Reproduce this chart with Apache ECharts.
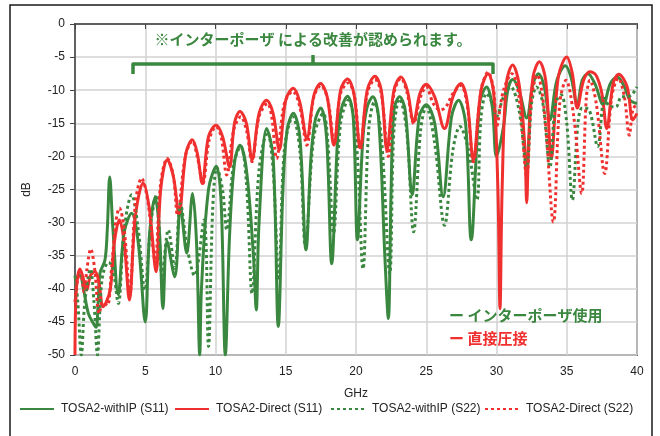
<!DOCTYPE html>
<html><head><meta charset="utf-8">
<script src="https://cdn.jsdelivr.net/npm/echarts@6/dist/echarts.min.js"></script>
<style>html,body{margin:0;padding:0;background:#fff}#c{width:660px;height:436px}</style>
</head><body><div id="c"></div>
<script>
const xTicks = [0,5,10,15,20,25,30,35,40];
const yTicks = [0,-5,-10,-15,-20,-25,-30,-35,-40,-45,-50];
const seriesNames = ['TOSA2-withIP (S11)','TOSA2-Direct (S11)','TOSA2-withIP (S22)','TOSA2-Direct (S22)'];

const withIP_S11 = [[0,-38.7],[0.35,-37.9],[0.6,-40],[0.95,-43.7],[1.3,-45.2],[1.5,-45.8],[1.65,-42],[1.78,-37.6],[2.13,-35.7],[2.3,-31],[2.47,-23.1],[2.7,-31],[3.08,-40.9],[3.5,-31.5],[4.03,-28.6],[4.5,-33],[5.0,-45],[5.3,-32],[5.7,-26.2],[6.0,-31],[6.26,-43],[6.55,-32.8],[7.1,-38.2],[7.5,-27.5],[7.95,-34.6],[8.37,-25.6],[8.65,-33],[8.88,-50],[9.0,-40],[9.5,-25],[10.06,-21.5],[10.4,-27],[10.7,-50],[11.0,-32],[11.35,-21],[11.74,-18.3],[12.2,-22],[12.7,-35],[12.9,-43.2],[13.1,-30],[13.64,-15.8],[14.1,-20],[14.47,-45.7],[14.8,-25],[15.1,-16],[15.54,-13.5],[16.0,-17],[16.44,-34.1],[16.8,-20],[17.1,-14.5],[17.48,-12.7],[17.9,-17],[18.27,-36.2],[18.7,-17],[19.0,-12.5],[19.4,-10.9],[19.8,-14],[20.1,-32.6],[20.5,-17],[20.8,-12.5],[21.2,-11.0],[21.6,-14],[22.06,-35.4],[22.3,-44.5],[22.5,-25],[22.7,-13],[23.1,-11],[23.5,-13],[24.0,-25.8],[24.5,-14],[25.0,-12.2],[25.6,-15],[26.2,-26.1],[26.8,-14],[27.3,-11.5],[27.8,-15],[28.2,-32.6],[28.8,-12],[29.3,-9.5],[29.7,-12.5],[30.0,-20],[30.5,-15.5],[30.8,-10],[31.15,-8.4],[31.6,-10],[32.15,-14.2],[32.6,-9],[33.0,-7.5],[33.4,-9.5],[33.8,-14.5],[34.3,-8.5],[34.9,-6.3],[35.3,-8],[35.75,-12.2],[36.1,-8.5],[36.5,-7.5],[37.0,-9],[37.6,-12.2],[38.1,-9],[38.6,-8.0],[39.1,-9.5],[39.5,-11.5],[40,-12]];

const direct_S11 = [[0,-50],[0.1,-40],[0.36,-37],[0.6,-38.5],[0.83,-40.2],[1.1,-38],[1.42,-37.4],[1.7,-39],[2.0,-42.7],[2.5,-40.2],[2.8,-33],[3.16,-29.6],[3.5,-33],[3.87,-41.7],[4.3,-29],[4.86,-24],[5.3,-28],[5.77,-37.4],[6.1,-25],[6.57,-20.5],[7.0,-23],[7.4,-28.6],[7.9,-19.5],[8.35,-17.5],[8.7,-19.5],[9.06,-24.1],[9.5,-17],[10.04,-15.3],[10.5,-17],[11.0,-21.6],[11.35,-15],[11.74,-13.2],[12.2,-15],[12.6,-20.5],[13.1,-13.5],[13.64,-11.5],[14.1,-13.5],[14.54,-19],[15.0,-11.5],[15.54,-9.7],[16.0,-11.8],[16.5,-17.3],[17.0,-10.8],[17.48,-9.0],[17.95,-11],[18.43,-18.3],[18.9,-10],[19.4,-8.3],[19.85,-10.5],[20.3,-18.7],[20.8,-10],[21.35,-7.9],[21.8,-10],[22.2,-19],[22.7,-10],[23.2,-8.0],[23.65,-10],[24.1,-14.8],[24.55,-10.5],[25.0,-9.1],[25.6,-11],[26.3,-15.8],[26.9,-11],[27.45,-9.0],[27.9,-11.5],[28.35,-20.5],[28.9,-10],[29.4,-7.5],[29.8,-10.5],[30.1,-25],[30.25,-43],[30.4,-25],[30.7,-9],[31.15,-6.2],[31.6,-9],[32.0,-18],[32.15,-27],[32.3,-17],[32.6,-8],[33.05,-5.7],[33.5,-8.5],[33.9,-20.3],[34.4,-8],[35.0,-5.0],[35.4,-7.5],[35.75,-12.7],[36.2,-8.5],[36.65,-7.2],[37.1,-7.8],[37.5,-10.5],[37.85,-15.8],[38.3,-9],[38.7,-7.6],[39.3,-9.5],[39.7,-14.5],[40,-13.5]];

const withIP_S22 = [[0,-38],[0.2,-42],[0.45,-50],[0.7,-42],[1.1,-37],[1.35,-42],[1.6,-50],[1.8,-42],[2.0,-37.7],[2.4,-36],[2.7,-37],[3.08,-42.2],[3.5,-31],[4.03,-25.8],[4.5,-31],[4.97,-40.2],[5.4,-30],[5.8,-25.8],[6.2,-38],[6.64,-31.1],[7.1,-36.9],[7.5,-27.1],[8.0,-34],[8.5,-38],[9.18,-29.6],[9.5,-48.7],[9.8,-28],[10.1,-21.7],[10.5,-25],[10.8,-31.1],[11.3,-21],[11.8,-18.5],[12.2,-24],[12.6,-40.7],[13.1,-22],[13.7,-16.3],[14.1,-22],[14.5,-38.7],[14.9,-19],[15.5,-14],[16.0,-19],[16.4,-33.6],[17.0,-17],[17.67,-13.5],[18.0,-18],[18.4,-31.6],[18.9,-15],[19.45,-11.5],[20.0,-17],[20.5,-37],[20.9,-16],[21.3,-11.8],[21.8,-17],[22.4,-37.7],[22.7,-16],[23.1,-11.3],[23.6,-16],[24.1,-31.4],[24.6,-16],[25.0,-12.5],[25.6,-18],[26.3,-30.4],[26.9,-19],[27.4,-15.5],[28.0,-19],[28.6,-26.6],[28.9,-14],[29.3,-10.5],[29.7,-12],[30.0,-14],[30.5,-11],[31.0,-9.5],[31.6,-13],[32.15,-21.6],[32.5,-12],[32.85,-9.5],[33.3,-12],[33.8,-21.6],[34.2,-12],[34.6,-10.7],[35.0,-15],[35.4,-26.6],[35.8,-15],[36.1,-12.7],[36.6,-13],[37.2,-18.5],[37.7,-11.2],[38.1,-12.5],[38.5,-12.5],[38.9,-11],[39.3,-11],[39.7,-10.5],[40,-9.5]];

const direct_S22 = [[0,-42],[0.2,-38.5],[0.4,-37.5],[0.65,-40.5],[0.85,-37],[1.12,-34.0],[1.4,-37],[1.73,-43.7],[2.0,-42],[2.3,-42.5],[2.6,-37],[2.9,-30],[3.16,-27.8],[3.5,-31],[3.9,-40.7],[4.3,-27],[4.74,-23.3],[5.2,-27],[5.7,-35.7],[6.1,-24],[6.57,-20.3],[7.0,-23],[7.3,-28.9],[7.85,-20],[8.35,-17.7],[8.7,-20],[9.1,-24.1],[9.55,-17.5],[10.04,-15.5],[10.4,-17],[10.8,-22.8],[11.3,-16],[11.8,-14],[12.2,-16],[12.6,-20.8],[13.1,-14],[13.7,-12],[14.0,-14],[14.35,-20.3],[14.9,-12],[15.5,-10.2],[16.0,-12.5],[16.5,-18.3],[17.0,-11],[17.5,-9.3],[18.0,-11.5],[18.45,-18],[18.9,-10.5],[19.45,-8.9],[19.9,-11],[20.3,-19],[20.8,-10.5],[21.35,-8.4],[21.8,-10.5],[22.3,-20],[22.7,-10.5],[23.2,-8.2],[23.65,-10.5],[24.1,-15],[24.6,-11],[25.0,-9.5],[25.5,-12],[26.0,-13],[26.4,-12.5],[26.9,-10.5],[27.45,-9.3],[27.9,-12],[28.35,-20.8],[28.9,-10],[29.4,-7.3],[29.8,-10],[30.0,-15.5],[30.5,-10],[31.1,-7.5],[31.6,-11],[32.15,-23],[32.5,-11],[32.9,-7.7],[33.4,-13],[34.05,-29.9],[34.5,-12],[34.95,-8.5],[35.5,-14],[36.06,-25.6],[36.4,-11],[36.65,-8.5],[37.1,-12],[37.7,-22.6],[38.2,-11],[38.67,-8.2],[39.1,-11],[39.45,-16.8],[39.7,-13],[40,-12]];

const annotationText = '※インターポーザ による改善が認められます。';
const inPlotLabels = ['ー インターポーザ使用', 'ー 直接圧接'];

const GREEN = '#3a873f', RED = '#f0302f';
const FONT = '"Liberation Sans",Arial,sans-serif';
const JP = '"Noto Sans CJK JP","Noto Sans CJK SC",sans-serif';

function mk(name, data, color, dotted) {
  return {
    name, type: 'line', data, showSymbol: false, symbol: 'none',
    smooth: 0.35, clip: true,
    lineStyle: { color, width: 3, type: dotted ? [3, 3] : 'solid' },
    itemStyle: { color },
    emphasis: { disabled: true }
  };
}

const legendLefts = [19, 174, 330, 484];
const legends = seriesNames.map((n, i) => ({
  left: legendLefts[i], top: 403, itemWidth: 34, itemHeight: 8, itemGap: 0, padding: 0,
  icon: 'inherit',
  itemStyle: { opacity: 0 },
  textStyle: { fontFamily: FONT, fontSize: 12, color: '#222', padding: [0, 0, 0, 2] },
  data: [n]
}));

const chart = echarts.init(document.getElementById('c'), null, { renderer: 'canvas' });
chart.setOption({
  animation: false,
  backgroundColor: '#fff',
  grid: { left: 75, right: 23, top: 24, bottom: 81, show: true, borderColor: '#6a6a6a', borderWidth: 2, backgroundColor: 'transparent' },
  xAxis: {
    type: 'value', min: xTicks[0], max: xTicks[xTicks.length - 1], interval: 5,
    name: 'GHz', nameLocation: 'middle', nameGap: 33,
    nameTextStyle: { fontFamily: FONT, fontSize: 12, color: '#222' },
    axisLine: { show: true, lineStyle: { color: '#444', width: 1.5 } },
    axisTick: { show: true, length: 5, lineStyle: { color: '#444' } },
    axisLabel: { fontFamily: FONT, fontSize: 12, color: '#222', margin: 11 },
    splitLine: { show: true, lineStyle: { color: '#d2d2d2', width: 1.5 } }
  },
  yAxis: {
    type: 'value', min: yTicks[yTicks.length - 1], max: yTicks[0], interval: 5,
    name: 'dB', nameLocation: 'middle', nameGap: 42, nameRotate: 90,
    nameTextStyle: { fontFamily: FONT, fontSize: 12, color: '#222' },
    axisLine: { show: true, lineStyle: { color: '#444', width: 1.5 } },
    axisTick: { show: true, length: 5, lineStyle: { color: '#444' } },
    axisLabel: { fontFamily: FONT, fontSize: 12, color: '#222', margin: 10 },
    splitLine: { show: true, lineStyle: { color: '#d2d2d2', width: 1.5 } }
  },
  legend: legends,
  series: [
    mk(seriesNames[0], withIP_S11, GREEN, false),
    mk(seriesNames[1], direct_S11, RED, false),
    mk(seriesNames[2], withIP_S22, GREEN, true),
    mk(seriesNames[3], direct_S22, RED, true)
  ],
  graphic: [
    { type: 'rect', shape: { x: 10, y: 5, width: 642, height: 445 }, style: { fill: 'none', stroke: '#1a1a1a', lineWidth: 1.5 }, silent: true, z: 100 },
    { type: 'text', x: 313, y: 39, z: 100, style: { text: annotationText, fill: GREEN, font: 'bold 15px ' + JP, align: 'center', verticalAlign: 'middle', textAlign: 'center', textVerticalAlign: 'middle' } },
    { type: 'polyline', z: 100, shape: { points: [[133, 74], [133, 64], [493, 64], [493, 74]] }, style: { stroke: GREEN, lineWidth: 3.5, fill: 'none', lineJoin: 'round' } },
    { type: 'line', z: 100, shape: { x1: 313, y1: 64, x2: 313, y2: 55 }, style: { stroke: GREEN, lineWidth: 3.5 } },
    { type: 'text', x: 449, y: 315, z: 100, style: { text: inPlotLabels[0], fill: GREEN, font: 'bold 15px ' + JP, verticalAlign: 'middle', textVerticalAlign: 'middle' } },
    { type: 'text', x: 449, y: 338, z: 100, style: { text: inPlotLabels[1], fill: RED, font: 'bold 15px ' + JP, verticalAlign: 'middle', textVerticalAlign: 'middle' } }
  ]
});
</script></body></html>
